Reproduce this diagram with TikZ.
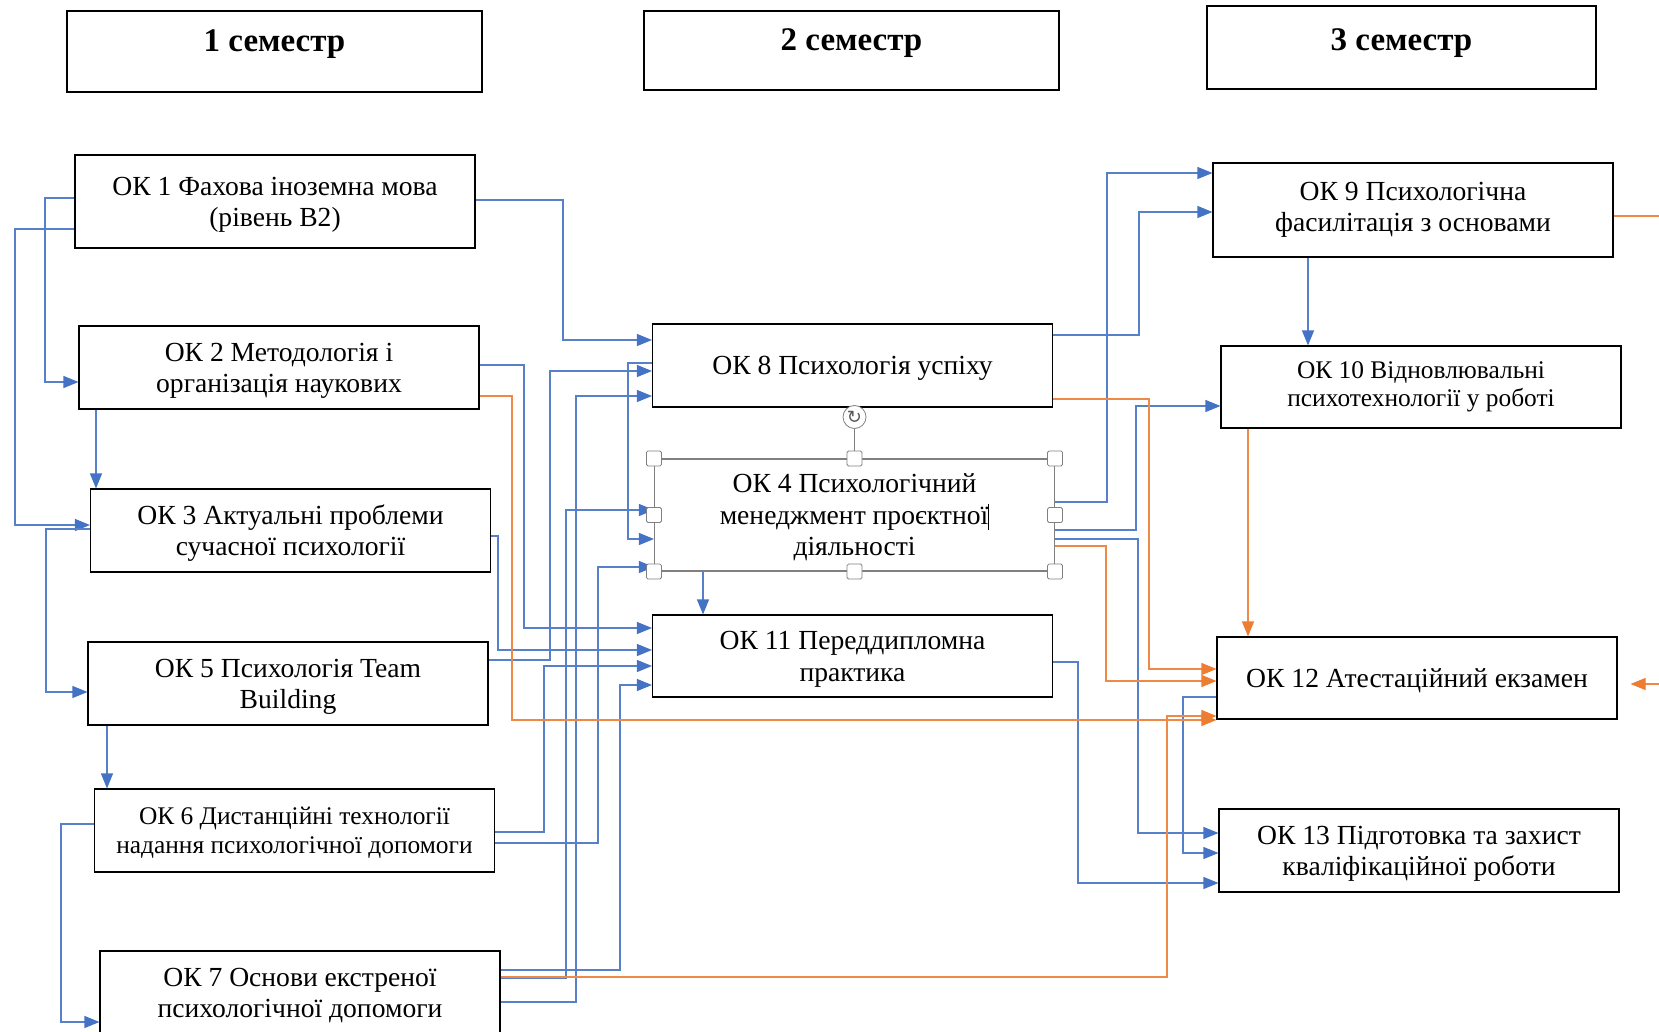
\documentclass[tikz,border=0pt]{standalone}
\usepackage{fontspec}
\setmainfont{Liberation Serif}
\newfontfamily\iconfont{DejaVu Sans}
\usepackage{tikz}
\usetikzlibrary{arrows.meta}
\definecolor{linkblue}{RGB}{68,114,196}
\definecolor{linkorange}{RGB}{237,125,49}
\newcommand\ws{\rule[-0.216em]{0pt}{1.107em}}
\newcommand\wsd{\rule[-0.45em]{0pt}{0.5em}}

\begin{document}
\begin{tikzpicture}[x=1pt,y=-1pt,
 term/.style={draw,line width=1.1pt,inner sep=0pt,text height=12pt,text depth=12pt,font=\fontsize{33}{38}\selectfont\bfseries},
 course/.style={draw,line width=1.1pt,align=center,inner sep=0pt,minimum width=400pt,minimum height=83pt,font=\fontsize{27.6}{31.5}\selectfont},
 small/.style={course,font=\fontsize{25.4}{28.5}\selectfont},
 link/.style={linkblue!90,line width=1.1pt,-{Triangle[length=15pt,width=12pt,color=linkblue]}},
 final/.style={linkorange!90,line width=1.1pt,-{Triangle[length=15pt,width=12pt,color=linkorange]}},
 handle/.style={draw=gray,fill=white,line width=0.8pt,rounded corners=1.5pt,minimum size=15pt,inner sep=0pt}
]
\useasboundingbox (0,0) rectangle (1659,1032);
\node[term,minimum width=415pt,minimum height=81pt] (sem1) at (274.5,51.5) {1 семестр};
\node[term,minimum width=415pt,minimum height=79pt] (sem2) at (851.5,50.5) {2 семестр};
\node[term,minimum width=389pt,minimum height=83pt,text height=15.5pt,text depth=8.5pt] (sem3) at (1401.5,47.5) {3 семестр};

\node[course,minimum height=93pt] (ok1) at (275,201.5) {\ws ОК 1 Фахова іноземна мова\\(рівень В2)\ws};
\node[course] (ok2) at (279,367.5) {\ws ОК 2 Методологія і\\організація наукових\ws};
\node[course] (ok3) at (290.5,530.5) {\ws ОК 3 Актуальні проблеми\\сучасної психології\ws};
\node[course] (ok5) at (288,683.5) {\ws ОК 5 Психологія Team\\Building\ws};
\node[small] (ok6) at (294.5,830.5) {\ws ОК 6 Дистанційні технології\\надання психологічної допомоги\ws};
\node[course] (ok7) at (300,992.5) {\ws ОК 7 Основи екстреної\\психологічної допомоги\ws};
\node[course] (ok8) at (852.5,365.5) {\ws ОК 8 Психологія успіху};
\node[course,draw=gray,minimum height=112pt] (ok4) at (854.5,515) {\ws ОК 4 Психологічний\\менеджмент проєктної\rule[-0.2em]{1pt}{0.95em}\\діяльності\ws};
\node[course,minimum height=82pt] (ok11) at (852.5,656) {\ws ОК 11 Переддипломна\\практика\ws};
\node[course,minimum height=94pt] (ok9) at (1413,210) {\ws ОК 9 Психологічна\\фасилітація з основами\wsd};
\node[small,minimum height=82pt] (ok10) at (1421,387) {\ws ОК 10 Відновлювальні\\психотехнології у роботі\wsd};
\node[course,minimum height=82pt] (ok12) at (1417,678) {\ws ОК 12 Атестаційний екзамен};
\node[course] (ok13) at (1419,850.5) {\ws ОК 13 Підготовка та захист\\кваліфікаційної роботи\ws};
\coordinate (out9) at (1659,216);
\coordinate (in12) at (1659,684);

\draw[link] (ok1.east |- 0,200) -| (563,340) -- (ok8.west |- 0,340);
\draw[link] (ok1.west |- 0,198) -| (45,382) -- (ok2.west |- 0,382);
\draw[link] (ok1.west |- 0,229) -| (15,525) -- (ok3.west |- 0,525);
\draw[link] (ok2.south -| 96,0) -- (ok3.north -| 96,0);
\draw[link] (ok2.east |- 0,365) -| (524,628) -- (ok11.west |- 0,628);
\draw[link] (ok3.west |- 0,529) -| (46,692) -- (ok5.west |- 0,692);
\draw[link] (ok3.east |- 0,536) -| (498,650) -- (ok11.west |- 0,650);
\draw[link] (ok5.south -| 107,0) -- (ok6.north -| 107,0);
\draw[link] (ok5.east |- 0,660) -| (550,371) -- (ok8.west |- 0,371);
\draw[link] (ok6.west |- 0,824) -| (61,1022) -- (ok7.west |- 0,1022);
\draw[link] (ok6.east |- 0,832) -| (544,666) -- (ok11.west |- 0,666);
\draw[link] (ok6.east |- 0,843) -| (598,567) -- (ok4.west |- 0,567);
\draw[link] (ok7.east |- 0,970) -| (620,685) -- (ok11.west |- 0,685);
\draw[link] (ok7.east |- 0,978) -| (566,510) -- (ok4.west |- 0,510);
\draw[link] (ok7.east |- 0,1002) -| (576,396) -- (ok8.west |- 0,396);
\draw[link] (ok8.west |- 0,363) -| (628,539) -- (ok4.west |- 0,539);
\draw[link] (ok4.south -| 703,0) -- (ok11.north -| 703,0);
\draw[link] (ok8.east |- 0,335) -| (1139,212) -- (ok9.west |- 0,212);
\draw[link] (ok4.east |- 0,502) -| (1107,173) -- (ok9.west |- 0,173);
\draw[link] (ok4.east |- 0,530) -| (1136,406) -- (ok10.west |- 0,406);
\draw[link] (ok4.east |- 0,539) -| (1138,833) -- (ok13.west |- 0,833);
\draw[link] (ok9.south -| 1308,0) -- (ok10.north -| 1308,0);
\draw[link] (ok11.east |- 0,662) -| (1078,883) -- (ok13.west |- 0,883);
\draw[link] (ok12.west |- 0,697) -| (1183,853) -- (ok13.west |- 0,853);

\draw[final] (ok2.east |- 0,396) -| (512,720) -- (ok12.west |- 0,720);
\draw[final] (ok7.east |- 0,977) -| (1167,716) -- (ok12.west |- 0,716);
\draw[final] (ok8.east |- 0,399) -| (1149,669) -- (ok12.west |- 0,669);
\draw[final] (ok4.east |- 0,546) -| (1106,681) -- (ok12.west |- 0,681);
\draw[final] (ok10.south -| 1248,0) -- (ok12.north -| 1248,0);
\draw[linkorange!90,line width=1.1pt] (ok9.east |- out9) -- (out9);
\draw[final,shorten >=13pt] (in12) -- (ok12.east |- in12);

\foreach \a [count=\i] in {north west,north,north east,east,south east,south,south west,west}
  \node[handle] (hd\i) at (ok4.\a) {};
\node[draw=gray,fill=white,circle,minimum size=23pt,inner sep=0pt,line width=0.8pt,text=gray!70!black,font=\iconfont\fontsize{18}{18}\selectfont] (rot) at (854.5,417) {↻};
\draw[gray,line width=1pt] (rot) -- (hd2);
\end{tikzpicture}
\end{document}
